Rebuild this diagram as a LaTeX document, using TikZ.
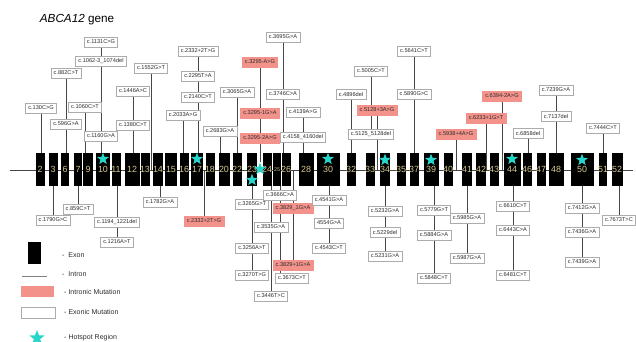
\documentclass[tikz,border=0pt]{standalone}
\usepackage{fontspec}
\setmainfont{Liberation Sans}
\usetikzlibrary{shapes.geometric}
\definecolor{pinkc}{RGB}{243,146,138}
\definecolor{cyanc}{RGB}{38,214,202}
\definecolor{beige}{RGB}{214,200,140}
\definecolor{linec}{RGB}{70,70,70}
\definecolor{txtc}{RGB}{45,45,45}
\pgfdeclarelayer{bg}
\pgfsetlayers{bg,main}
\tikzset{
  mut/.style={draw=gray!65, fill=white, line width=0.5pt, text=txtc,
    font=\fontsize{4.8}{5.5}\selectfont, inner xsep=2.3pt, inner ysep=0pt, minimum height=0.31cm},
  intr/.style={mut, fill=pinkc, draw=pinkc},
  exonbox/.style={fill=black, draw=none, minimum height=0.99cm, inner sep=0pt},
  exnum/.style={text=beige, font=\fontsize{7.6}{8}\selectfont, inner sep=0pt},
  hot/.style={star, star points=5, star point ratio=2.4, fill=cyanc, draw=none, minimum size=0.38cm, inner sep=0pt},
  conn/.style={draw=linec, line width=0.55pt},
  legt/.style={anchor=west, text=txtc, font=\fontsize{6}{7}\selectfont, inner sep=0pt},
}
\begin{document}
\begin{tikzpicture}[x=0.03cm, y=-0.03cm]
\useasboundingbox (0,0) rectangle (636,342);
\coordinate (ax) at (0,170);
\coordinate (axL) at (10,170);
\coordinate (axR) at (633,170);

% title
\node[anchor=center, font=\fontsize{10}{12}\selectfont, inner sep=0pt] (title) at (77,20) {\textit{ABCA12} gene};

% exons
\foreach \n/\x/\w in {2/40/9, 3/53/9, 6/65/8, 7/78/8, 9/88/10, 10/103/14, 11/116/9, 12/132/15,
  13/145/9, 14/158/10, 15/171/12, 16/184/9, 17/197/12, 18/210/9, 20/224/11, 22/237/9,
  23/252/10, 24/267/9, 25/277/8, 26/286/9, 28/306/15, 30/328/23, 32/351/9, 33/370/9,
  34/385/10, 35/401/9, 37/414/9, 39/431/15, 40/448/9, 41/467/10, 42/481/10, 43/494/9,
  44/512/17, 46/527/9, 47/541/9, 48/556/15, 50/582/23, 51/603/8, 52/617/11}
  {\node[exonbox, minimum width=\w*0.03cm] (e\n) at (\x,169.5) {};}
\foreach \n in {2,3,6,7,9,10,11,12,13,14,15,16,17,18,20,22,23,24,26,28,30,32,33,34,35,37,39,40,41,42,43,44,46,47,48,50,51,52}
  {\node[exnum] (n\n) at (e\n) {\n};}
\node[exnum, font=\fontsize{4.5}{5}\selectfont] (n25) at (e25) {25};

% hotspots
\node[hot] (s10) at (103,159) {};
\node[hot] (s17) at (197,159) {};
\node[hot] (s23) at (252,180) {};
\node[hot] (s2324) at (260,169) {};
\node[hot] (s30) at (328,159) {};
\node[hot] (s34) at (385,160) {};
\node[hot] (s39) at (431,160) {};
\node[hot] (s44) at (512,159) {};
\node[hot] (s50) at (582,160) {};

% mutations above
\node[mut] (c130) at (41,108) {c.130C>G};
\node[mut] (c882) at (66,73) {c.882C>T};
\node[mut] (c596) at (66,124) {c.596G>A};
\node[mut] (c1060) at (85,107) {c.1060C>T};
\node[mut] (c1131) at (101,42) {c.1131C>G};
\node[mut] (c1062) at (101,61) {c.1062-3\_1074del};
\node[mut] (c1160) at (101,136) {c.1160G>A};
\node[mut] (c1446) at (133,91) {c.1446A>C};
\node[mut] (c1380) at (133,125) {c.1380C>T};
\node[mut] (c1552) at (151,68) {c.1552G>T};
\node[mut] (c2033) at (183,115) {c.2033A>G};
\node[mut] (c2332a) at (198,51) {c.2332+2T>G};
\node[mut] (c2295) at (198,76) {c.2295T>A};
\node[mut] (c2140) at (198,97) {c.2140C>T};
\node[mut] (c2683) at (220,131) {c.2683G>A};
\node[mut] (c3065) at (237,92) {c.3065G>A};
\node[intr] (c3295a) at (260,62) {c.3295-A>G};
\node[intr] (c3295b) at (260,113) {c.3295-1G>A};
\node[intr] (c3295c) at (260,138) {c.3295-2A>G};
\node[mut] (c3695) at (283,37) {c.3695G>A};
\node[mut] (c3746) at (283,94) {c.3746C>A};
\node[mut] (c4139) at (303,112) {c.4139A>G};
\node[mut] (c4158) at (303,137) {c.4158\_4160del};
\node[mut] (c4896) at (351,94) {c.4896del};
\node[mut] (c5005) at (371,71) {c.5005C>T};
\node[intr] (c5128) at (377,110) {c.5128+3A>G};
\node[mut] (c5125) at (371,134) {c.5125\_5128del};
\node[mut] (c5641) at (414,51) {c.5641C>T};
\node[mut] (c5890) at (414,94) {c.5890G>C};
\node[intr] (c5938) at (456,134) {c.5938+4A>G};
\node[intr] (c6233) at (486,118) {c.6233+1G>T};
\node[intr] (c6394) at (502,96) {c.6394-2A>G};
\node[mut] (c6858) at (528,133) {c.6858del};
\node[mut] (c7239) at (556,90) {c.7239G>A};
\node[mut] (c7137) at (556,116) {c.7137del};
\node[mut] (c7444) at (603,128) {c.7444C>T};

% mutations below
\node[mut] (c1790) at (53,220) {c.1790G>C};
\node[mut] (c859) at (78,209) {c.859C>T};
\node[mut] (c1194) at (117,222) {c.1194\_1221del};
\node[mut] (c1216) at (117,242) {c.1216A>T};
\node[mut] (c1782) at (160,202) {c.1782G>A};
\node[intr] (c2332b) at (204,221) {c.2332+2T>G};
\node[mut] (c3265) at (252,204) {c.3265G>T};
\node[mut] (c3256) at (252,248) {c.3256A>T};
\node[mut] (c3270) at (252,275) {c.3270T>G};
\node[mut] (c3666) at (280,195) {c.3666C>A};
\node[mut] (c3535) at (271,227) {c.3535G>A};
\node[mut] (c3446) at (271,296) {c.3446T>C};
\node[intr] (c3829a) at (293,208) {c.3829\_1G>A};
\node[intr] (c3829b) at (293,265) {c.3829+1G>A};
\node[mut] (c3673) at (292,278) {c.3673C>T};
\node[mut] (c4541) at (329,200) {c.4541G>A};
\node[mut] (c4554) at (329,223) {4554G>A};
\node[mut] (c4543) at (329,248) {c.4543C>T};
\node[mut] (c5232) at (385,211) {c.5232G>A};
\node[mut] (c5229) at (385,232) {c.5229del};
\node[mut] (c5231) at (385,256) {c.5231G>A};
\node[mut] (c5779) at (434,210) {c.5779G>T};
\node[mut] (c5884) at (434,235) {c.5884G>A};
\node[mut] (c5848) at (434,278) {c.5848C>T};
\node[mut] (c5985) at (467,218) {c.5985G>A};
\node[mut] (c5987) at (467,258) {c.5987G>A};
\node[mut] (c6610) at (513,206) {c.6610C>T};
\node[mut] (c6443) at (513,230) {c.6443C>A};
\node[mut] (c6481) at (513,275) {c.6481C>T};
\node[mut] (c7412) at (582,208) {c.7412G>A};
\node[mut] (c7436) at (582,232) {c.7436G>A};
\node[mut] (c7439) at (582,262) {c.7439G>A};
\node[mut] (c7673) at (619,220) {c.7673T>C};

% legend
\node[fill=black, minimum width=0.39cm, minimum height=0.66cm, inner sep=0pt] (legex) at (34.5,253) {};
\node[legt] (legexT) at (62,255) {-\ \ Exon};
\coordinate (legIa) at (22,276);
\coordinate (legIb) at (47,276);
\node[legt] (legiT) at (62,274) {-\ \ Intron};
\node[fill=pinkc, minimum width=0.99cm, minimum height=0.33cm, inner sep=0pt] (legpink) at (37.5,291.5) {};
\node[legt] (legpT) at (64,292) {- Intronic Mutation};
\node[draw=gray!65, fill=white, line width=0.5pt, minimum width=1.02cm, minimum height=0.33cm, inner sep=0pt] (legwhite) at (38,312.5) {};
\node[legt] (legwT) at (64,312) {- Exonic Mutation};
\node[hot, minimum size=0.48cm] (legstar) at (37,338) {};
\node[legt] (legsT) at (64,338) {- Hotspot Region};

\begin{pgfonlayer}{bg}
\draw[conn] (axL) -- (axR);
\draw[draw=gray, line width=0.6pt] (legIa) -- (legIb);
% above
\draw[conn] (c130) -- (c130 |- e2.center);
\draw[conn] (c882) -- (c596) -- (c596 |- e6.center);
\draw[conn] (c1060) -- (c1060 |- e9.center);
\draw[conn] (c1131) -- (c1062) -- (c1160) -- (c1160 |- e10.center);
\draw[conn] (c1446) -- (c1380) -- (c1380 |- e12.center);
\draw[conn] (c1552) -- (c1552 |- ax);
\draw[conn] (c2033) -- (c2033 |- e16.center);
\draw[conn] (c2332a) -- (c2295) -- (c2140) -- (c2140 |- e17.center);
\draw[conn] (c2683) -- (c2683 |- e20.center);
\draw[conn] (c3065) -- (c3065 |- e22.center);
\draw[conn] (c3295a) -- (c3295b) -- (c3295c) -- (s2324);
\draw[conn] (c3695) -- (c3746) -- (c3746 |- e26.center);
\draw[conn] (c4139) -- (c4158) -- (c4158 |- e28.center);
\draw[conn] (c4896) -- (c4896 |- e32.center);
\draw[conn] (c5005) -- (c5125);
\draw[conn] (c5128) -- (c5128 |- ax);
\draw[conn] (c5641) -- (c5890) -- (c5890 |- e37.center);
\draw[conn] (c5938) -- (c5938 |- ax);
\draw[conn] (c6233) -- (c6233 |- ax);
\draw[conn] (c6394) -- (c6394 |- ax);
\draw[conn] (c6858) -- (c6858 |- e46.center);
\draw[conn] (c7239) -- (c7137) -- (c7137 |- e48.center);
\draw[conn] (c7444) -- (c7444 |- e51.center);
% below
\draw[conn] (c1790 |- e3.center) -- (c1790);
\draw[conn] (c859 |- e7.center) -- (c859);
\draw[conn] (c1194 |- e11.center) -- (c1194) -- (c1216);
\draw[conn] (c1782 |- e14.center) -- (c1782);
\draw[conn] (c2332b |- ax) -- (c2332b);
\draw[conn] (s23) -- (c3265) -- (c3256) -- (c3270);
\draw[conn] (c3535 |- e24.center) -- (c3535) -- (c3446);
\draw[conn] (c3666 |- e25.center) -- (c3666) -- (c3666 |- c3673.center);
\draw[conn] (c3829a |- ax) -- (c3829a) -- (c3829b);
\draw[conn] (c4541 |- e30.center) -- (c4541) -- (c4554) -- (c4543);
\draw[conn] (c5232 |- e34.center) -- (c5232) -- (c5229) -- (c5231);
\draw[conn] (c5779 |- e39.center) -- (c5779) -- (c5884) -- (c5848);
\draw[conn] (c5985 |- e41.center) -- (c5985) -- (c5987);
\draw[conn] (c6610 |- e44.center) -- (c6610) -- (c6443) -- (c6481);
\draw[conn] (c7412 |- e50.center) -- (c7412) -- (c7436) -- (c7439);
\draw[conn] (c7673 |- e52.center) -- (c7673);
\end{pgfonlayer}
\end{tikzpicture}
\end{document}
